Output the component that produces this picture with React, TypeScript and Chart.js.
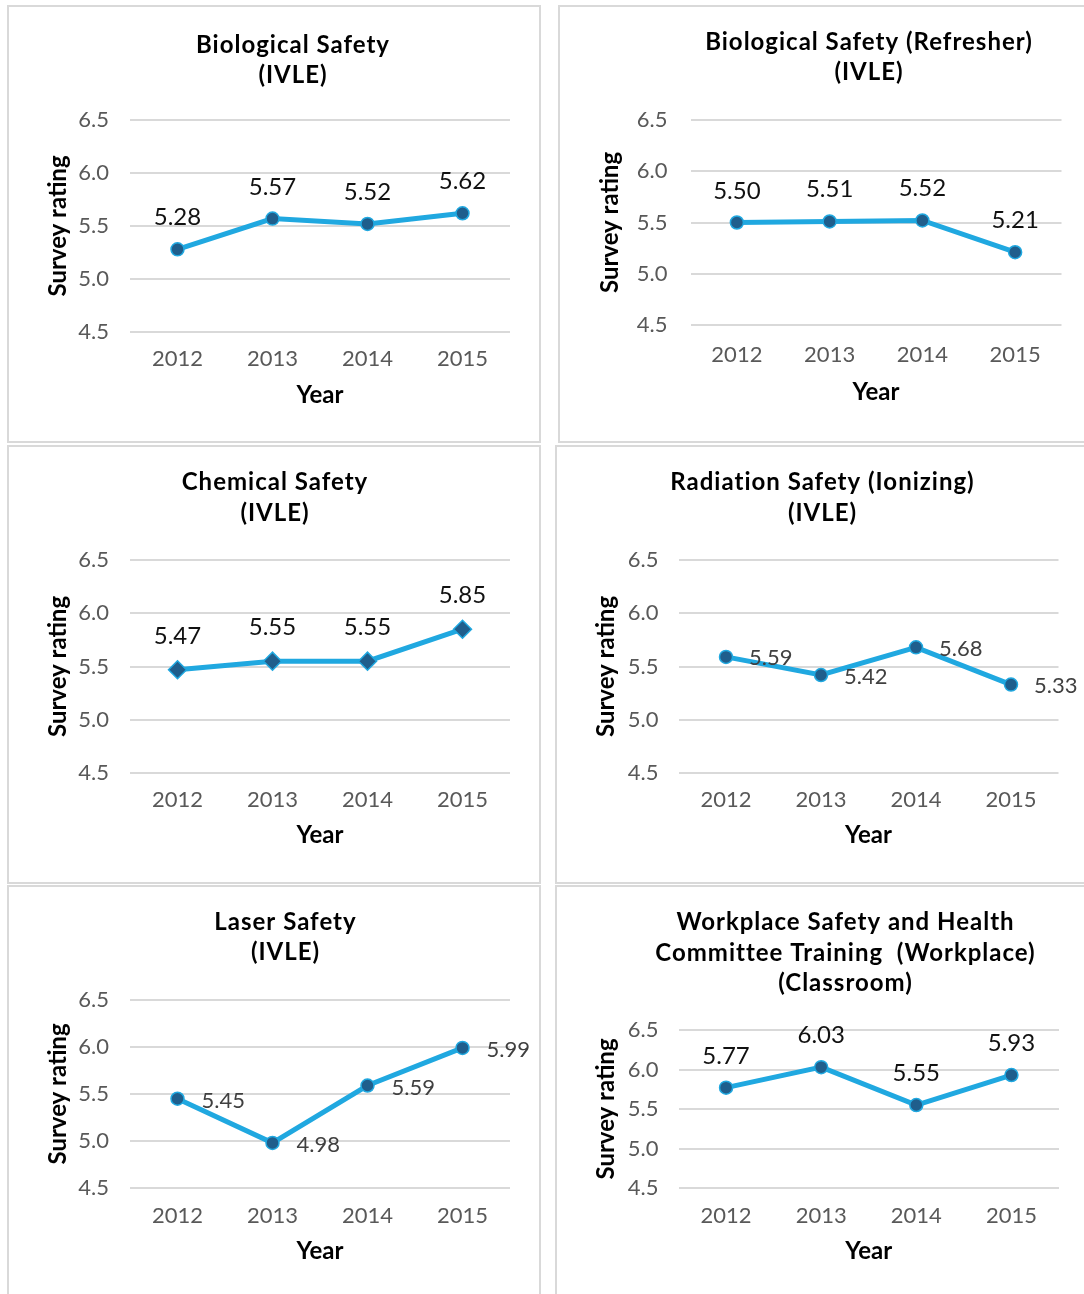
import React, { useEffect, useRef } from 'react';
import { Chart, registerables } from 'chart.js';

Chart.register(...registerables);

// ---------- data ----------
const years = ['2012', '2013', '2014', '2015'];
const bioSafety = [5.28, 5.57, 5.52, 5.62];
const bioRefresher = [5.5, 5.51, 5.52, 5.21];
const chemSafety = [5.47, 5.55, 5.55, 5.85];
const radSafety = [5.59, 5.42, 5.68, 5.33];
const laserSafety = [5.45, 4.98, 5.59, 5.99];
const wshcTraining = [5.77, 6.03, 5.55, 5.93];

const yMin = 4.5;
const yMax = 6.5;
const yStep = 0.5;

const bioTitle = ['Biological Safety', '(IVLE)'];
const bioRefTitle = ['Biological Safety (Refresher)', '(IVLE)'];
const chemTitle = ['Chemical Safety', '(IVLE)'];
const radTitle = ['Radiation Safety (Ionizing)', '(IVLE)'];
const laserTitle = ['Laser Safety', '(IVLE)'];
const wshcTitle = ['Workplace Safety and Health', 'Committee Training  (Workplace)', '(Classroom)'];

const xAxisTitle = 'Year';
const yAxisTitle = 'Survey rating';

// ---------- styles ----------
const FONT = 'Lato, "Open Sans", sans-serif';
const LINE = '#20A8E0';
const MARK = '#1F5E8C';
const GRID = '#d9d9d9';
const TICK = '#595959';

const titlePlugin = {
  id: 'panelTitle',
  afterDraw(chart: any, _a: any, opts: any) {
    if (!opts || !opts.lines) return;
    const ctx = chart.ctx;
    ctx.save();
    ctx.font = `bold ${opts.size}px ${FONT}`;
    try {
      (ctx as any).letterSpacing = '1px';
    } catch (e) {}
    ctx.fillStyle = '#000';
    ctx.textAlign = 'center';
    ctx.textBaseline = 'alphabetic';
    for (let i = 0; i < opts.lines.length; i++) {
      ctx.fillText(opts.lines[i], opts.x, opts.y + i * opts.gap);
    }
    ctx.restore();
  },
};

const labelPlugin = {
  id: 'pointLabels',
  afterDatasetsDraw(chart: any, _a: any, opts: any) {
    const meta = chart.getDatasetMeta(0);
    const data = chart.data.datasets[0].data;
    const ctx = chart.ctx;
    ctx.save();
    ctx.font = `${opts.size}px ${FONT}`;
    ctx.fillStyle = opts.color;
    ctx.textBaseline = 'alphabetic';
    meta.data.forEach((pt: any, i: number) => {
      const txt = Number(data[i]).toFixed(2);
      if (opts.mode === 'above') {
        ctx.textAlign = 'center';
        ctx.fillText(txt, pt.x, pt.y + opts.dy);
      } else {
        ctx.textAlign = 'left';
        ctx.fillText(txt, pt.x + opts.dx, pt.y + opts.dy);
      }
    });
    ctx.restore();
  },
};

type PanelCfg = {
  data: number[];
  title: string[];
  box: { left: number; top: number; width: number; height: number };
  pad: { left: number; right: number; top: number; bottom: number };
  yw: number;
  xh: number;
  xTickPad: number;
  yTickPad: number;
  titleX: number;
  titleY: number;
  titleGap: number;
  label: { mode: string; dx: number; dy: number; size: number; color: string };
  pointStyle: string;
  pointRadius: number;
};

const panels: PanelCfg[] = [
  {
    data: bioSafety, title: bioTitle,
    box: { left: 7, top: 5, width: 534, height: 438 },
    pad: { left: 35, right: 29, top: 113, bottom: 31 }, yw: 86, xh: 78, xTickPad: 14, yTickPad: 21,
    titleX: 284, titleY: 46, titleGap: 30,
    label: { mode: 'above', dx: 0, dy: -24, size: 24, color: '#111' },
    pointStyle: 'circle', pointRadius: 6.5,
  },
  {
    data: bioRefresher, title: bioRefTitle,
    box: { left: 558, top: 5, width: 540, height: 438 },
    pad: { left: 36, right: 22.5, top: 113, bottom: 34 }, yw: 94.5, xh: 82, xTickPad: 17, yTickPad: 23,
    titleX: 309, titleY: 43, titleGap: 30,
    label: { mode: 'above', dx: 0, dy: -24, size: 24, color: '#111' },
    pointStyle: 'circle', pointRadius: 6.5,
  },
  {
    data: chemSafety, title: chemTitle,
    box: { left: 7, top: 445, width: 534, height: 439 },
    pad: { left: 35, right: 29, top: 113, bottom: 32 }, yw: 86, xh: 77, xTickPad: 14, yTickPad: 21,
    titleX: 266, titleY: 43, titleGap: 31,
    label: { mode: 'above', dx: 0, dy: -26, size: 24, color: '#111' },
    pointStyle: 'rectRot', pointRadius: 9,
  },
  {
    data: radSafety, title: radTitle,
    box: { left: 555, top: 445, width: 540, height: 439 },
    pad: { left: 34.6, right: 25.5, top: 113, bottom: 32 }, yw: 86.9, xh: 77, xTickPad: 14, yTickPad: 20,
    titleX: 265.5, titleY: 43, titleGap: 31,
    label: { mode: 'right', dx: 23, dy: 8.5, size: 22, color: '#404040' },
    pointStyle: 'circle', pointRadius: 6.5,
  },
  {
    data: laserSafety, title: laserTitle,
    box: { left: 7, top: 885, width: 534, height: 430 },
    pad: { left: 35, right: 29, top: 113, bottom: 28.6 }, yw: 86, xh: 77.4, xTickPad: 14.8, yTickPad: 21,
    titleX: 276.5, titleY: 43, titleGap: 30,
    label: { mode: 'right', dx: 24, dy: 9, size: 22, color: '#404040' },
    pointStyle: 'circle', pointRadius: 6.5,
  },
  {
    data: wshcTraining, title: wshcTitle,
    box: { left: 555, top: 885, width: 540, height: 430 },
    pad: { left: 34.6, right: 25, top: 143, bottom: 28.6 }, yw: 86.9, xh: 77.4, xTickPad: 14.8, yTickPad: 20,
    titleX: 288.5, titleY: 43, titleGap: 30.5,
    label: { mode: 'above', dx: 0, dy: -24, size: 24, color: '#111' },
    pointStyle: 'circle', pointRadius: 6.5,
  },
];

const PAGE_W = 1084;
const PAGE_H = 1294;

function Panel({ cfg }: { cfg: PanelCfg }) {
  const ref = useRef<HTMLCanvasElement | null>(null);
  const cx = cfg.box.left + 2;
  const cy = cfg.box.top + 2;
  const cw = Math.min(cfg.box.width - 4, PAGE_W - cx);
  const ch = Math.min(cfg.box.height - 4, PAGE_H - cy);

  useEffect(() => {
    if (!ref.current) return;
    const chart = new Chart(ref.current, {
      type: 'line',
      data: {
        labels: years,
        datasets: [
          {
            data: cfg.data,
            borderColor: LINE,
            borderWidth: 5,
            tension: 0,
            pointStyle: cfg.pointStyle as any,
            pointRadius: cfg.pointRadius,
            pointBackgroundColor: MARK,
            pointBorderColor: LINE,
            pointBorderWidth: 1.5,
            clip: false as any,
          },
        ],
      },
      plugins: [titlePlugin, labelPlugin],
      options: {
        responsive: false,
        animation: false,
        devicePixelRatio: 1,
        layout: { padding: cfg.pad },
        plugins: {
          legend: { display: false },
          tooltip: { enabled: false },
          title: { display: false },
          panelTitle: { lines: cfg.title, x: cfg.titleX, y: cfg.titleY, gap: cfg.titleGap, size: 24 },
          pointLabels: cfg.label,
        } as any,
        scales: {
          x: {
            offset: true,
            grid: { display: false, drawTicks: false },
            border: { display: false },
            ticks: { color: TICK, font: { family: FONT, size: 22 }, padding: cfg.xTickPad },
            title: {
              display: true,
              text: xAxisTitle,
              color: '#000',
              font: { family: FONT, size: 24, weight: 'bold' },
              padding: 0,
            },
            afterFit: (s: any) => {
              s.height = cfg.xh;
            },
          },
          y: {
            min: yMin,
            max: yMax,
            grid: { color: GRID, lineWidth: 2, drawTicks: false },
            border: { display: false },
            ticks: {
              stepSize: yStep,
              color: TICK,
              font: { family: FONT, size: 22 },
              padding: cfg.yTickPad,
              callback: (v: any) => Number(v).toFixed(1),
            },
            title: {
              display: true,
              text: yAxisTitle,
              color: '#000',
              font: { family: FONT, size: 24, weight: 'bold' },
              padding: 0,
            },
            afterFit: (s: any) => {
              s.width = cfg.yw;
            },
          },
        },
      } as any,
    });
    return () => chart.destroy();
  }, [cfg]);

  return (
    <div
      style={{
        position: 'absolute',
        left: cfg.box.left,
        top: cfg.box.top,
        width: cfg.box.width,
        height: cfg.box.height,
        boxSizing: 'border-box',
        border: `2px solid ${GRID}`,
        background: '#fff',
      }}
    >
      <canvas
        ref={ref}
        width={cw}
        height={ch}
        style={{ position: 'absolute', left: 0, top: 0, width: cw, height: ch, display: 'block' }}
      />
    </div>
  );
}

export default function App() {
  return (
    <div
      style={{
        position: 'absolute',
        left: 0,
        top: 0,
        width: PAGE_W,
        height: PAGE_H,
        overflow: 'hidden',
        background: '#fff',
      }}
    >
      {panels.map((p, i) => (
        <Panel key={i} cfg={p} />
      ))}
    </div>
  );
}
